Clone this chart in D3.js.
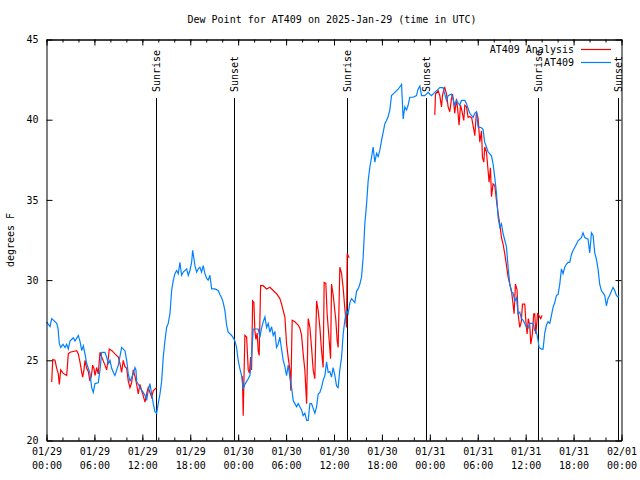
<!DOCTYPE html>
<html>
<head>
<meta charset="utf-8">
<script src="https://cdn.jsdelivr.net/npm/d3@7/dist/d3.min.js"></script>
<style>
  html, body { margin: 0; padding: 0; background: #fff; }
  svg { display: block; }
  text { font-family: "DejaVu Sans Mono", "Liberation Mono", monospace; font-size: 10px; fill: #000; }
</style>
</head>
<body>
<script>
// ---------------- DATA ----------------
const chartTitle = "Dew Point for AT409 on 2025-Jan-29 (time in UTC)";
const yLabel = "degrees F";
const startUTC = Date.UTC(2025, 0, 29, 0, 0);   // 2025-01-29 00:00 UTC
const endHour = 72;

// AT409 observations: hours since start, dew point (F)
const blueHours = [0.00,0.44,0.65,1.28,1.44,1.60,1.78,2.07,2.32,2.53,2.73,2.94,3.35,3.57,3.98,4.19,4.41,4.61,4.82,5.03,
  5.44,5.66,5.86,6.07,6.48,6.70,6.91,7.32,7.53,7.73,7.95,8.16,8.36,8.57,8.99,9.41,9.82,10.04,10.24,10.45,
  10.86,11.08,11.20,11.29,11.70,12.11,12.45,12.54,12.74,12.95,13.17,13.37,13.58,13.79,13.99,14.21,14.42,14.62,14.83,15.04,
  15.24,15.46,15.67,15.87,16.08,16.30,16.50,16.71,16.92,17.12,17.55,17.75,17.96,18.17,18.30,18.59,18.80,19.00,19.21,19.42,
  19.62,19.84,20.05,20.25,20.46,20.68,21.09,21.50,21.71,21.93,22.13,22.34,22.55,22.75,23.18,23.38,23.59,23.80,24.00,24.22,
  24.43,24.63,24.84,25.26,25.47,25.68,25.88,26.51,26.72,26.93,27.13,27.35,27.56,27.76,27.97,28.18,28.39,28.60,28.80,29.00,
  29.22,29.43,29.64,29.85,30.06,30.26,30.48,30.69,30.89,31.10,31.31,31.52,31.73,31.94,32.14,32.35,32.57,32.77,32.98,33.19,
  33.39,33.60,33.82,34.02,34.23,34.44,34.64,34.86,35.07,35.27,35.48,35.69,35.89,36.11,36.32,36.52,36.73,36.95,37.15,37.36,
  37.57,37.77,37.99,38.20,38.61,38.82,39.02,39.24,39.45,39.65,39.86,40.08,40.28,40.49,40.70,40.90,41.11,41.33,41.53,41.74,
  41.95,42.15,42.37,42.58,42.78,42.99,43.20,43.62,44.03,44.46,44.66,44.87,45.08,45.28,45.49,45.91,46.33,46.53,46.75,46.96,
  47.37,47.78,47.99,48.20,48.62,48.83,49.25,49.66,49.87,50.09,50.29,50.71,50.91,51.12,51.33,51.75,51.96,52.38,52.59,52.79,
  53.00,53.42,53.63,53.84,54.04,54.46,54.66,54.87,55.09,55.29,55.72,55.92,56.13,56.35,56.55,56.76,56.97,57.17,57.38,57.60,
  57.80,58.01,58.22,58.42,58.64,58.85,59.05,59.26,59.47,59.67,59.89,60.10,60.30,60.51,60.93,61.14,61.35,61.55,61.68,61.98,
  62.18,62.39,62.60,62.80,63.02,63.23,63.43,63.64,63.86,64.06,64.27,64.48,64.68,64.89,65.11,65.31,65.52,65.73,65.93,66.15,
  66.36,66.56,66.98,67.18,67.40,67.81,68.02,68.24,68.44,68.65,68.86,69.06,69.27,69.48,69.90,70.11,70.31,70.53,70.94,71.15,
  71.36,71.56,71.69];
const blueDew = [27.4,27.1,27.6,27.3,27.0,26.05,25.8,26.0,25.8,26.0,25.7,26.2,26.4,26.2,26.55,26.2,25.6,25.9,25.4,24.8,
  24.2,23.3,23.0,23.55,23.6,24.4,25.5,25.5,25.2,24.8,25.0,24.5,24.25,24.05,24.7,25.8,25.6,25.0,24.15,23.7,
  24.15,24.55,24.4,23.7,23.3,23.0,22.7,22.5,23.1,23.55,22.9,22.3,21.8,21.7,22.3,22.9,23.7,25.2,26.2,27.05,
  27.3,27.9,29.35,29.97,30.4,30.6,30.4,31.1,30.3,30.5,30.7,30.3,30.6,31.1,31.85,30.9,30.5,30.7,30.8,30.5,
  30.9,30.4,30.1,30.0,30.3,29.45,29.45,29.35,29.1,28.9,28.6,28.1,27.2,26.75,26.55,26.4,26.2,25.8,25.0,24.47,
  24.05,23.2,23.5,23.85,24.05,25.2,26.95,26.95,26.45,27.0,27.4,27.7,27.05,27.3,26.75,27.1,26.55,26.8,25.8,26.0,
  26.45,25.7,25.0,24.6,24.05,24.7,23.95,23.3,22.5,22.3,22.1,22.3,22.1,21.9,21.55,21.7,21.25,21.25,22.3,22.3,
  22.0,21.7,22.1,22.9,23.0,23.3,23.75,24.05,24.9,24.25,24.3,23.95,24.55,24.05,23.4,23.3,24.4,25.2,26.65,27.5,
  28.1,27.9,28.6,28.85,28.6,29.3,29.45,29.75,30.2,31.4,33.5,34.75,36.2,37.05,37.65,38.3,37.35,37.9,37.7,38.1,
  38.7,39.2,39.75,39.95,40.2,40.6,41.5,41.7,41.9,42.2,40.05,40.8,40.6,40.9,41.4,41.4,41.5,41.9,42.1,41.5,
  41.5,41.7,41.6,41.5,41.7,41.8,42.0,42.0,41.6,41.2,41.5,41.6,41.3,40.9,41.2,40.9,41.2,41.2,41.0,40.7,
  40.4,40.15,40.4,40.5,39.55,39.5,39.4,38.6,38.3,38.0,37.75,37.25,36.4,35.4,33.9,33.3,33.5,32.9,32.5,32.05,
  30.8,29.75,29.25,29.2,28.7,28.9,27.9,28.0,27.6,27.5,27.3,27.05,27.0,27.3,27.3,26.85,26.75,26.25,25.8,25.7,
  25.7,26.7,27.2,27.4,27.3,27.8,28.3,28.6,29.05,29.1,29.75,30.7,30.4,30.8,31.0,31.1,31.1,31.6,31.85,32.05,
  32.25,32.45,32.65,32.95,32.65,32.55,31.7,32.95,32.8,31.7,31.3,30.7,29.75,29.35,29.05,28.4,28.85,29.05,29.55,29.35,
  29.05,28.95,29.05];

// AT409 Analysis: hours since start, dew point (F); null marks a gap
const redHours = [0.65,0.78,1.06,1.28,1.48,1.60,1.78,2.07,2.53,2.73,2.94,3.35,3.78,3.98,4.19,4.41,4.53,4.69,4.82,5.03,
  5.23,5.44,5.61,5.78,5.94,6.07,6.28,6.48,6.70,6.91,7.32,7.53,7.73,7.86,8.20,8.57,8.99,9.20,9.41,9.61,
  9.82,10.04,10.24,10.45,10.66,10.86,11.08,11.29,11.49,11.70,11.91,12.11,12.33,12.54,12.74,12.95,13.17,13.37,13.58,13.79,
  19.0,
  24.53,24.63,24.84,25.06,25.26,25.41,25.56,25.68,25.81,25.97,26.09,26.22,26.38,26.51,26.63,26.81,27.13,27.56,27.97,28.39,
  28.81,29.22,29.44,29.64,29.85,30.06,30.26,30.48,30.60,30.76,31.10,31.51,31.73,31.94,32.14,32.35,32.57,32.77,32.98,33.19,
  33.39,33.60,33.82,34.02,34.23,34.44,34.64,34.77,34.98,35.14,35.36,35.57,35.69,35.89,36.23,36.40,36.52,36.73,36.95,37.15,
  37.36,37.57,37.65,37.90,
  43.0,
  48.62,48.71,49.04,49.25,49.46,49.59,49.75,49.87,50.09,50.29,50.50,50.71,50.84,51.00,51.12,51.34,51.50,51.66,51.84,52.00,
  52.25,52.38,52.59,52.79,53.00,53.25,53.50,53.63,53.84,54.04,54.26,54.47,54.59,54.76,54.88,55.09,55.29,55.42,55.59,55.72,
  55.92,56.13,56.35,56.55,56.76,56.97,57.17,57.38,57.60,57.80,58.01,58.22,58.42,58.55,58.72,58.92,59.05,59.26,59.45,59.60,
  59.89,60.01,60.18,60.33,60.51,60.64,60.83,61.01,61.14,61.26,61.39,61.48,61.64,61.89,62.05];
const redDew = [23.65,25.05,25.0,24.5,24.15,23.5,24.4,24.2,24.05,25.4,25.5,25.55,25.6,25.4,24.9,24.25,23.95,24.4,25.0,24.5,
  24.3,23.7,24.0,24.7,24.5,24.05,24.55,24.15,25.5,25.2,24.7,24.4,25.1,25.7,25.6,25.4,25.2,24.8,24.25,25.0,
  24.6,24.5,23.7,23.3,23.6,24.4,24.0,23.5,22.9,23.5,23.1,22.8,22.4,22.9,23.3,23.0,22.7,23.1,23.2,23.3,
  null,
  24.0,21.55,26.55,26.45,24.4,24.2,25.2,24.4,28.7,28.6,26.85,26.3,26.7,25.6,25.3,29.65,29.65,29.45,29.55,29.35,
  29.15,28.85,28.5,28.1,27.7,26.05,25.2,24.4,23.1,27.5,27.4,27.2,27.0,26.55,25.4,24.4,22.3,27.6,27.05,25.8,
  24.4,23.85,28.7,28.1,27.05,25.6,24.55,29.85,29.8,27.9,26.5,25.1,29.75,29.1,27.5,26.2,25.8,30.8,30.4,29.5,
  28.2,27.05,31.65,31.4,
  null,
  40.3,41.6,41.8,41.5,40.8,41.5,41.9,42.0,41.6,40.8,40.5,41.3,41.6,41.0,40.4,41.3,40.6,39.65,40.9,40.6,
  39.95,40.9,40.8,40.15,40.2,40.1,39.4,39.0,40.5,40.1,38.6,39.3,37.65,37.35,38.3,38.0,36.85,36.1,37.0,35.2,
  36.0,35.9,34.95,34.15,33.5,32.65,32.25,31.65,30.9,30.2,29.75,29.35,28.5,27.9,29.75,29.4,27.9,27.05,27.4,28.5,
  28.5,27.5,26.65,27.6,27.2,26.0,26.6,27.9,27.9,26.65,27.3,27.9,27.8,27.6,27.8];

const sunriseHours = [13.65, 37.63, 61.58];
const sunsetHours = [23.52, 47.55, 71.56];
const yTicks = [20, 25, 30, 35, 40, 45];
const yDomain = [20, 45];
const xMajorHours = [0, 6, 12, 18, 24, 30, 36, 42, 48, 54, 60, 66, 72];
const xMinorHours = d3.range(0, 73, 2);
const legendNames = ["AT409 Analysis", "AT409"];
const legendColors = ["#ff0000", "#0080ff"];

// ---------------- DRAW ----------------
const W = 640, H = 480;
const L = 46.5, R = 621.5, T = 39.5, B = 440.5;
const toDate = h => new Date(startUTC + h * 3600e3);

const x = d3.scaleUtc().domain([toDate(0), toDate(endHour)]).range([L, R]);
const y = d3.scaleLinear().domain(yDomain).range([B, T]);

const svg = d3.select("body").append("svg").attr("width", W).attr("height", H);

svg.append("text").attr("x", 332).attr("y", 23).attr("text-anchor", "middle").text(chartTitle);
svg.append("text").attr("transform", "translate(14,240) rotate(-90)").attr("text-anchor", "middle").text(yLabel);

// Sunrise / sunset lines
const sunEvents = sunriseHours.map(h => ({h, name: "Sunrise"})).concat(sunsetHours.map(h => ({h, name: "Sunset"})));
const sunG = svg.append("g");
sunEvents.forEach(e => {
  const px = Math.round(x(toDate(e.h))) + 0.5;
  sunG.append("line").attr("x1", px).attr("x2", px).attr("y1", 98).attr("y2", B)
    .attr("stroke", "#000").attr("stroke-width", 1);
  sunG.append("text").attr("transform", `translate(${px},92) rotate(-90)`)
    .attr("dy", "0.35em").attr("text-anchor", "start").text(e.name);
});

// Series
const redData = redHours.map((h, i) => ({t: toDate(h), v: redDew[i]}));
const blueData = blueHours.map((h, i) => ({t: toDate(h), v: blueDew[i]}));
const line = d3.line().defined(d => d.v !== null).x(d => x(d.t)).y(d => y(d.v));

svg.append("path").datum(redData).attr("d", line)
  .attr("fill", "none").attr("stroke", legendColors[0]).attr("stroke-width", 1.2).attr("stroke-linejoin", "miter");
svg.append("path").datum(blueData).attr("d", line)
  .attr("fill", "none").attr("stroke", legendColors[1]).attr("stroke-width", 1.2).attr("stroke-linejoin", "miter");

// Axes
const majorDates = xMajorHours.map(toDate);
const minorDates = xMinorHours.map(toDate);
const fmtDay = d3.utcFormat("%m/%d"), fmtTime = d3.utcFormat("%H:%M");

const gx = svg.append("g").attr("transform", `translate(0,${B})`)
  .call(d3.axisBottom(x).tickValues(majorDates).tickSize(-6).tickSizeOuter(0).tickPadding(7).tickFormat(""));
gx.selectAll(".tick text").each(function(d) {
  const t = d3.select(this);
  t.append("tspan").attr("x", 0).text(fmtDay(d));
  t.append("tspan").attr("x", 0).attr("dy", "1.4em").text(fmtTime(d));
});
svg.append("g").attr("transform", `translate(0,${B})`)
  .call(d3.axisBottom(x).tickValues(minorDates).tickSize(-3).tickSizeOuter(0).tickFormat(""));
svg.append("g").attr("transform", `translate(0,${T})`)
  .call(d3.axisTop(x).tickValues(majorDates).tickSize(-6).tickSizeOuter(0).tickFormat(""));
svg.append("g").attr("transform", `translate(0,${T})`)
  .call(d3.axisTop(x).tickValues(minorDates).tickSize(-3).tickSizeOuter(0).tickFormat(""));
svg.append("g").attr("transform", `translate(${L},0)`)
  .call(d3.axisLeft(y).tickValues(yTicks).tickSize(-6).tickSizeOuter(0).tickPadding(8).tickFormat(d3.format("d")));
svg.append("g").attr("transform", `translate(${R},0)`)
  .call(d3.axisRight(y).tickValues(yTicks).tickSize(-6).tickSizeOuter(0).tickFormat(""));

svg.selectAll(".domain, .tick line").attr("stroke", "#000").attr("stroke-width", 1);
svg.selectAll(".tick text").attr("font-family", null).attr("font-size", null).attr("fill", "#000");

// Legend
const lg = svg.append("g");
legendNames.forEach((n, i) => {
  const cy = 49.5 + i * 13;
  lg.append("text").attr("x", 574).attr("y", cy).attr("dy", "0.35em").attr("text-anchor", "end").text(n);
  lg.append("line").attr("x1", 581).attr("x2", 611).attr("y1", cy).attr("y2", cy)
    .attr("stroke", legendColors[i]).attr("stroke-width", 1.2);
});
</script>
</body>
</html>
